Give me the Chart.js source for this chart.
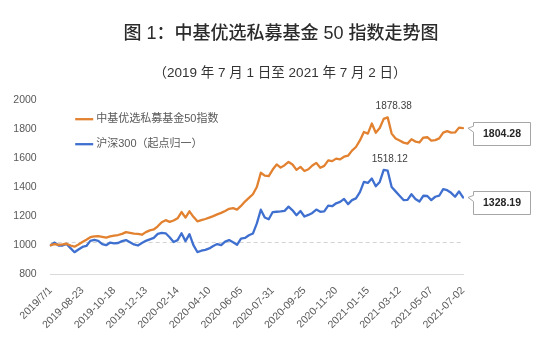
<!DOCTYPE html>
<html>
<head>
<meta charset="utf-8">
<script src="https://cdn.jsdelivr.net/npm/chart.js@4.4.1/dist/chart.umd.min.js"></script>
<style>
  html, body { margin: 0; padding: 0; background: #ffffff; }
  #wrap { position: relative; width: 550px; height: 357px; overflow: hidden; }
  #title { position: absolute; left: 0; top: 22px; width: 562px; text-align: center; font-weight: 500;
           font-family: 'Liberation Sans', 'Noto Sans CJK SC', sans-serif; font-size: 18px; line-height: 22px; color: #2b2b2b; }
  #subtitle { position: absolute; left: 0; top: 64px; width: 560px; text-align: center;
           font-family: 'Liberation Sans', 'Noto Sans CJK SC', sans-serif; font-size: 13.5px; line-height: 17px; color: #333333; }
  canvas { position: absolute; left: 0; top: 0; }
</style>
</head>
<body>
<div id="wrap">
  <canvas id="c" width="550" height="357"></canvas>
  <div id="title">图 1：中基优选私募基金 50 指数走势图</div>
  <div id="subtitle">（2019 年 7 月 1 日至 2021 年 7 月 2 日）</div>
</div>
<script>
// ---- data (weekly) ----
const SERIES_NAMES = ['中基优选私募基金50指数', '沪深300（起点归一）'];

const PRIVATE_50 = [
  1000, 1008, 1003, 1005, 1010, 998, 990, 1005, 1022, 1038,
  1055, 1060, 1063, 1058, 1052, 1060, 1066, 1070, 1078, 1090,
  1085, 1080, 1078, 1072, 1090, 1102, 1108, 1130, 1158, 1172,
  1160, 1170, 1185, 1228, 1190, 1233, 1195, 1164, 1172, 1180,
  1190, 1200, 1212, 1222, 1235, 1250, 1255, 1245, 1270, 1300,
  1325, 1350, 1400, 1498, 1478, 1475, 1520, 1555, 1533, 1550,
  1572, 1555, 1518, 1538, 1510, 1522, 1548, 1566, 1532, 1545,
  1583, 1578, 1595, 1590, 1608, 1615, 1650, 1675, 1720, 1778,
  1767, 1836, 1773, 1805, 1868, 1878.38, 1767, 1733, 1720, 1705,
  1698, 1728, 1712, 1706, 1740, 1742, 1719, 1722, 1734, 1774,
  1784, 1774, 1775, 1808, 1804.28
];

const CSI300 = [
  1000, 1018, 998, 998, 1008, 980, 952, 970, 988, 995,
  1030, 1036, 1030, 1008, 1000, 1018, 1012, 1015, 1028, 1035,
  1020, 1005, 998, 1015, 1030, 1040, 1050, 1078, 1085, 1082,
  1055, 1022, 1035, 1082, 1028, 1076, 1000, 953, 962, 968,
  978, 995, 1008, 1000, 1025, 1035, 1020, 1003, 1045, 1050,
  1068, 1080, 1150, 1244, 1190, 1178, 1228, 1230, 1232, 1236,
  1265, 1240, 1206, 1235, 1197, 1208, 1222, 1245, 1230, 1232,
  1272, 1268, 1288, 1298, 1318, 1282, 1310, 1322, 1365, 1435,
  1428, 1458, 1405, 1435, 1518.12, 1512, 1400, 1370, 1340, 1310,
  1312, 1350, 1318, 1300, 1340, 1338, 1310, 1333, 1340, 1385,
  1378, 1360, 1333, 1370, 1328.19
];

const TICK_LABELS = ['2019/7/1', '2019-08-23', '2019-10-18', '2019-12-13', '2020-02-14', '2020-04-10',
  '2020-06-05', '2020-07-31', '2020-09-25', '2020-11-20', '2021-01-15', '2021-03-12', '2021-05-07', '2021-07-02'];
const TICK_EVERY = 8;          // one label every 8 weeks
const WEEKS = PRIVATE_50.map((_, i) => i);   // category = week number
const Y_MIN = 800, Y_MAX = 2000, Y_STEP = 200;
const REF_LINE = 1020;         // light dashed reference line

// ---- styles ----
const FONT = "'Liberation Sans', 'Noto Sans CJK SC', sans-serif";
const C_ORANGE = '#E2812F';
const C_BLUE = '#3F70CF';
const C_TEXT = '#595959';

const extras = {
  id: 'extras',
  beforeDatasetsDraw(chart) {
    const { ctx, chartArea, scales } = chart;
    const y = Math.round(scales.y.getPixelForValue(REF_LINE)) + 0.5;
    ctx.save();
    ctx.strokeStyle = '#D3D3D3';
    ctx.lineWidth = 1;
    ctx.setLineDash([4, 3]);
    ctx.beginPath();
    ctx.moveTo(chartArea.left, y);
    ctx.lineTo(chartArea.right, y);
    ctx.stroke();
    ctx.restore();
  },
  afterDatasetsDraw(chart) {
    const { ctx, chartArea } = chart;
    ctx.save();
    chart.data.datasets.forEach((ds, di) => {
      const meta = chart.getDatasetMeta(di);
      // peak label
      let pk = 0;
      ds.data.forEach((v, i) => { if (v > ds.data[pk]) pk = i; });
      const p = meta.data[pk];
      ctx.font = '10px ' + FONT;
      ctx.fillStyle = '#404040';
      ctx.textAlign = 'center';
      ctx.textBaseline = 'middle';
      ctx.fillText(ds.data[pk].toFixed(2), p.x + 6, p.y - 11);
      // last value callout
      const li = ds.data.length - 1;
      const q = meta.data[li];
      const bx = Math.round(q.x + 10) + 0.5;
      const top = Math.round(q.y - 6) + 0.5;
      const w = 57, h = 23;
      ctx.beginPath();
      ctx.moveTo(bx, top);
      ctx.lineTo(bx + w, top);
      ctx.lineTo(bx + w, top + h);
      ctx.lineTo(bx, top + h);
      ctx.lineTo(bx, q.y + 4);
      ctx.lineTo(q.x + 5, q.y);
      ctx.lineTo(bx, q.y - 2);
      ctx.closePath();
      ctx.fillStyle = '#ffffff';
      ctx.fill();
      ctx.strokeStyle = '#A6A6A6';
      ctx.lineWidth = 1;
      ctx.stroke();
      ctx.font = 'bold 10.5px ' + FONT;
      ctx.fillStyle = '#262626';
      ctx.fillText(ds.data[li].toFixed(2), bx + w / 2, top + h / 2 + 0.5);
      // legend entry
      const lx = chartArea.left + 24.5;
      const ly = chartArea.top + 19.5 + di * 25;
      ctx.strokeStyle = ds.borderColor;
      ctx.lineWidth = 2.3;
      ctx.beginPath();
      ctx.moveTo(lx, ly);
      ctx.lineTo(lx + 18, ly);
      ctx.stroke();
      ctx.font = '11px ' + FONT;
      ctx.fillStyle = C_TEXT;
      ctx.textAlign = 'left';
      ctx.fillText(ds.label, lx + 21, ly);
    });
    ctx.restore();
  }
};

new Chart(document.getElementById('c'), {
  type: 'line',
  data: {
    labels: WEEKS,
    datasets: [
      { label: SERIES_NAMES[0], data: PRIVATE_50, borderColor: C_ORANGE, backgroundColor: C_ORANGE,
        borderWidth: 2.3, pointRadius: 0, tension: 0, borderJoinStyle: 'round', borderCapStyle: 'round' },
      { label: SERIES_NAMES[1], data: CSI300, borderColor: C_BLUE, backgroundColor: C_BLUE,
        borderWidth: 2.3, pointRadius: 0, tension: 0, borderJoinStyle: 'round', borderCapStyle: 'round' }
    ]
  },
  options: {
    responsive: false,
    animation: false,
    devicePixelRatio: 1,
    layout: { padding: { top: 99.7, left: 0, right: 87, bottom: 0 } },
    plugins: { legend: { display: false }, title: { display: false }, tooltip: { enabled: false } },
    scales: {
      x: {
        grid: { display: false, drawTicks: false },
        border: { display: true, color: '#D9D9D9', width: 1 },
        ticks: {
          autoSkip: false, maxRotation: 45, minRotation: 45, padding: 10,
          font: (c) => ({ family: FONT, size: 10.5, weight: (c.index === WEEKS.length - 1) ? 'bold' : 'normal' }),
          color: (c) => (c.index === WEEKS.length - 1) ? '#262626' : C_TEXT,
          callback: (v, i) => (i % TICK_EVERY === 0) ? TICK_LABELS[i / TICK_EVERY] : null
        },
        afterFit: (s) => { s.height = 82.7; }
      },
      y: {
        min: Y_MIN, max: Y_MAX,
        grid: { display: false, drawTicks: false },
        border: { display: false },
        ticks: { stepSize: Y_STEP, padding: 14, color: C_TEXT, font: { family: FONT, size: 10.5 },
                 callback: (v) => String(v) },
        afterFit: (s) => { s.width = 50.7; }
      }
    }
  },
  plugins: [extras]
});
</script>
</body>
</html>
